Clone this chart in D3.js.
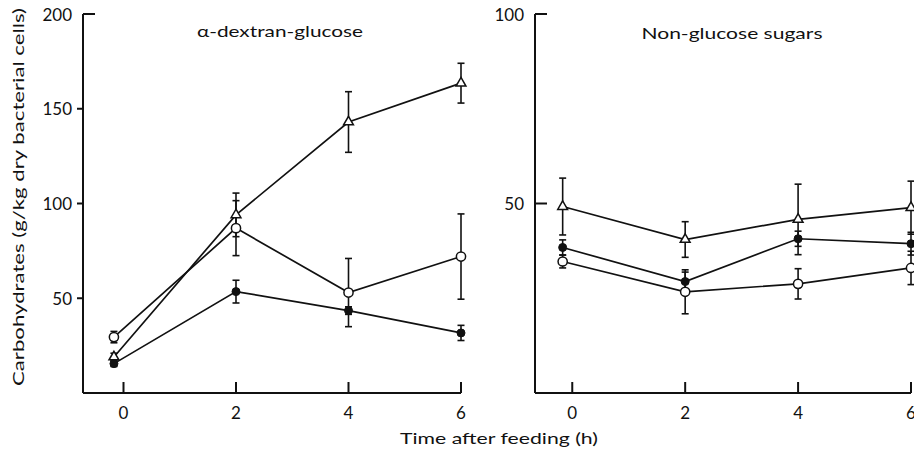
<!DOCTYPE html>
<html>
<head>
<meta charset="utf-8">
<script src="https://cdn.jsdelivr.net/npm/d3@7"></script>
<style>
  html, body { margin: 0; padding: 0; background: #fff; }
  svg { display: block; }
  text { font-family: Lato, "Open Sans", sans-serif; fill: #111; }
</style>
</head>
<body>
<svg id="chart" width="914" height="455"></svg>
<script>
// ---- data ----
const hours = [-0.17, 2, 4, 6];
const xTicks = [0, 2, 4, 6];

// alpha-dextran-glucose panel
const dexTriangle = [19, 94, 143, 163.5];
const dexTriangleErr = [2, 11.5, 16, 10.5];
const dexOpen = [29.5, 87, 53, 72];
const dexOpenErr = [3, 14.5, 18, 22.5];
const dexFilled = [15.5, 53.5, 43.5, 31.7];
const dexFilledErr = [1.5, 6, 2, 4];
const dexYTicks = [50, 100, 150, 200];

// non-glucose sugars panel
const ngTriangle = [49.2, 40.5, 45.8, 48.9];
const ngTriangleErr = [7.5, 4.7, 9.3, 7];
const ngFilled = [38.4, 29.4, 40.7, 39.4];
const ngFilledErr = [2, 2.5, 2, 3];
const ngOpen = [34.7, 26.7, 28.8, 33];
const ngOpenErr = [1.7, 5.8, 4, 4.4];
const ngYTicks = [50, 100];

const svg = d3.select("#chart");

function panel(cfg) {
  const g = svg.append("g");
  const x = d3.scaleLinear().domain(cfg.xDomain).range([cfg.left, cfg.right]);
  const y = d3.scaleLinear().domain(cfg.yDomain).range([cfg.bottom, cfg.top]);

  // axes lines
  g.append("line").attr("x1", cfg.left).attr("x2", cfg.left)
    .attr("y1", y(cfg.yDomain[1])).attr("y2", cfg.bottom)
    .attr("stroke", "#111").attr("stroke-width", 2);
  g.append("line").attr("x1", cfg.left).attr("x2", x(6))
    .attr("y1", cfg.bottom).attr("y2", cfg.bottom)
    .attr("stroke", "#111").attr("stroke-width", 2);

  // y ticks
  cfg.yTicks.forEach((t, i) => {
    const yy = y(t);
    const inward = (t === cfg.yDomain[1]) || cfg.inwardTicks;
    g.append("line")
      .attr("x1", cfg.left).attr("x2", inward ? cfg.left + 12 : cfg.left - 6)
      .attr("y1", yy).attr("y2", yy)
      .attr("stroke", "#111").attr("stroke-width", 2);
    g.append("text")
      .attr("x", cfg.left - 11).attr("y", yy)
      .attr("text-anchor", "end").attr("dominant-baseline", "central")
      .attr("font-size", 17).text(t);
  });

  // x ticks (pointing up, inside)
  xTicks.forEach(t => {
    g.append("line").attr("x1", x(t)).attr("x2", x(t))
      .attr("y1", cfg.bottom).attr("y2", cfg.bottom - 11)
      .attr("stroke", "#111").attr("stroke-width", 2);
    g.append("text").attr("x", x(t)).attr("y", cfg.bottom + 19)
      .attr("text-anchor", "middle").attr("dominant-baseline", "central")
      .attr("font-size", 17).text(t);
  });

  // title
  g.append("text").attr("x", cfg.titleX).attr("y", cfg.titleY)
    .attr("text-anchor", "middle").attr("dominant-baseline", "central")
    .attr("font-size", 16).attr("textLength", cfg.titleLen)
    .attr("lengthAdjust", "spacingAndGlyphs")
    .text(cfg.title);

  const line = d3.line().x((d, i) => x(hours[i])).y(d => y(d));

  cfg.series.forEach(s => {
    // connecting line
    g.append("path").datum(s.values).attr("d", line)
      .attr("fill", "none").attr("stroke", "#111").attr("stroke-width", 1.7);
    // error bars
    s.values.forEach((v, i) => {
      const e = s.err[i];
      const cx = x(hours[i]);
      const y1 = y(v + e), y2 = y(v - e);
      g.append("line").attr("x1", cx).attr("x2", cx).attr("y1", y1).attr("y2", y2)
        .attr("stroke", "#111").attr("stroke-width", 1.6);
      [y1, y2].forEach(yy => g.append("line")
        .attr("x1", cx - 3.5).attr("x2", cx + 3.5).attr("y1", yy).attr("y2", yy)
        .attr("stroke", "#111").attr("stroke-width", 1.6));
    });
  });

  cfg.series.forEach(s => {
    s.values.forEach((v, i) => {
      const cx = x(hours[i]), cy = y(v);
      if (s.type === "triangle") {
        g.append("path")
          .attr("d", d3.symbol(d3.symbolTriangle).size(42)())
          .attr("transform", `translate(${cx},${cy})`)
          .attr("fill", "#fff").attr("stroke", "#111").attr("stroke-width", 1.5);
      } else if (s.type === "open") {
        g.append("circle").attr("cx", cx).attr("cy", cy).attr("r", 4.6)
          .attr("fill", "#fff").attr("stroke", "#111").attr("stroke-width", 1.5);
      } else {
        g.append("circle").attr("cx", cx).attr("cy", cy).attr("r", 4)
          .attr("fill", "#111").attr("stroke", "#111").attr("stroke-width", 1);
      }
    });
  });
}

panel({
  left: 83, right: 461, top: 14, bottom: 393,
  xDomain: [-0.72, 6], yDomain: [0, 200], yTicks: dexYTicks, inwardTicks: false,
  title: "α-dextran-glucose", titleX: 280, titleY: 30, titleLen: 166,
  series: [
    { type: "filled", values: dexFilled, err: dexFilledErr },
    { type: "open", values: dexOpen, err: dexOpenErr },
    { type: "triangle", values: dexTriangle, err: dexTriangleErr }
  ]
});

panel({
  left: 535, right: 911, top: 14, bottom: 393,
  xDomain: [-0.66, 6], yDomain: [0, 100], yTicks: ngYTicks, inwardTicks: true,
  title: "Non-glucose sugars", titleX: 732, titleY: 32, titleLen: 181,
  series: [
    { type: "filled", values: ngFilled, err: ngFilledErr },
    { type: "open", values: ngOpen, err: ngOpenErr },
    { type: "triangle", values: ngTriangle, err: ngTriangleErr }
  ]
});

// axis titles
svg.append("text")
  .attr("transform", "translate(17,197) rotate(-90)")
  .attr("text-anchor", "middle").attr("dominant-baseline", "central")
  .attr("font-size", 16).attr("textLength", 378).attr("lengthAdjust", "spacingAndGlyphs")
  .text("Carbohydrates (g/kg dry bacterial cells)");

svg.append("text")
  .attr("x", 499).attr("y", 437)
  .attr("text-anchor", "middle").attr("dominant-baseline", "central")
  .attr("font-size", 16).attr("textLength", 198).attr("lengthAdjust", "spacingAndGlyphs")
  .text("Time after feeding (h)");
</script>
</body>
</html>
